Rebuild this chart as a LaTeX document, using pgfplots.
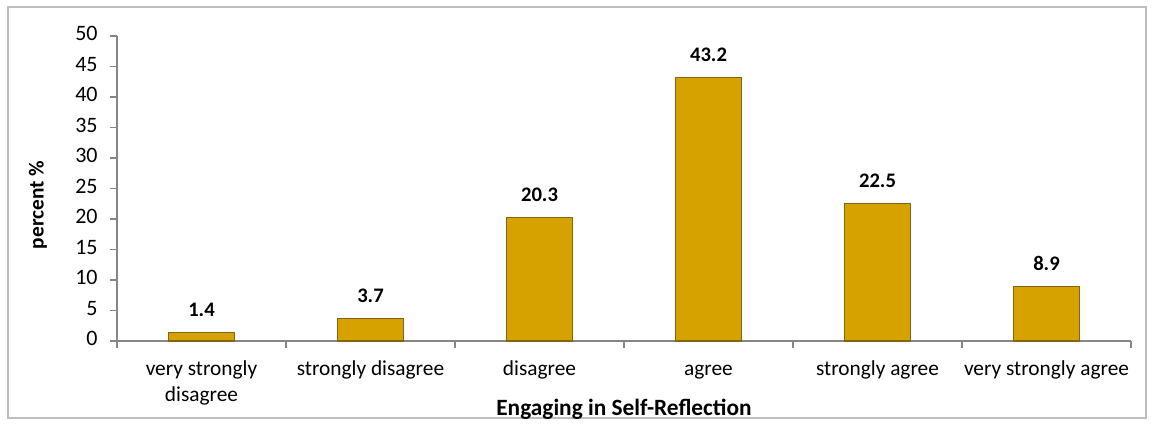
\documentclass[border=0pt]{standalone}
\usepackage{pgfplots}
\pgfplotsset{compat=1.18}
\usepackage{fontspec}
\setmainfont{Carlito}
\definecolor{barfill}{RGB}{214,162,0}
\definecolor{baredge}{RGB}{130,100,20}
\definecolor{axisgray}{RGB}{134,134,134}
\definecolor{framegray}{RGB}{190,190,190}

\begin{document}
\begin{tikzpicture}[x=1pt,y=1pt]
% page size and outer frame (1px = 0.75pt, origin at the axis corner)
\path (-87.75,-63.75) rectangle (777,255.75);
\draw[framegray, line width=0.8pt] (-81.75,-57.75) rectangle (771.75,250.5);
\begin{axis}[
  scale only axis, width=760.5pt, height=228.75pt,
  ybar, bar width=49.5pt,
  xmin=-0.5, xmax=5.5, ymin=0, ymax=50,
  ytick={0,5,...,50},
  xtick={0,...,5},
  xticklabels={{very strongly\\disagree},strongly disagree,disagree,agree,strongly agree,very strongly agree},
  minor xtick={-0.5,0.5,...,5.5},
  major x tick style={draw=none},
  axis lines*=left,
  axis line style={axisgray, line width=0.8pt},
  tick style={axisgray, line width=0.8pt},
  tick align=outside,
  major tick length=5pt, minor tick length=5pt,
  typeset ticklabels with strut,
  xticklabel style={align=center, font=\fontsize{16}{19.5}\selectfont, yshift=-4pt},
  yticklabel style={font=\fontsize{16.5}{18}\selectfont, xshift=-6pt},
  /pgf/number format/assume math mode=true,
  xlabel={Engaging in Self-Reflection},
  xlabel style={font=\bfseries\fontsize{17.5}{20}\selectfont, at={(axis description cs:0.5,-0.223)}, anchor=center},
  ylabel={percent \%},
  ylabel style={font=\bfseries\fontsize{16}{18}\selectfont, at={(axis description cs:-0.078,0.446)}, anchor=center},
  nodes near coords={\pgfmathprintnumber[fixed,fixed zerofill,precision=1,assume math mode=true]{\pgfplotspointmeta}},
  nodes near coords style={font=\bfseries\fontsize{15.5}{17}\selectfont, yshift=8pt},
]
\addplot[fill=barfill, draw=baredge, line width=1pt]
  coordinates {(0,1.4) (1,3.7) (2,20.3) (3,43.2) (4,22.5) (5,8.9)};
\end{axis}
\end{tikzpicture}
\end{document}
